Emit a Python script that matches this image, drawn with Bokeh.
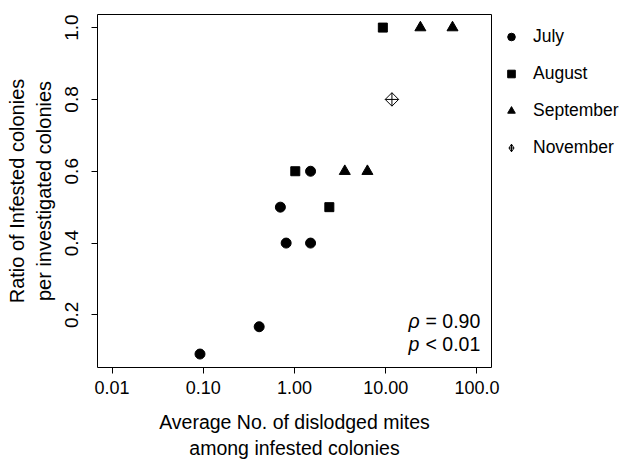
import math
from bokeh.plotting import figure
from bokeh.models import Range1d, FixedTicker, Label, Legend, LegendItem
from bokeh.embed import file_html
from bokeh.resources import INLINE

# ---- data ----
july_x = [0.092, 0.41, 0.81, 1.50, 0.70, 1.50]
july_y = [0.091, 0.167, 0.40, 0.40, 0.50, 0.60]
aug_x = [1.02, 2.41, 9.3]
aug_y = [0.60, 0.50, 1.00]
sep_x = [3.56, 6.3, 24.0, 54.0]
sep_y = [0.60, 0.60, 1.00, 1.00]
nov_x = [11.7]
nov_y = [0.80]

x_ticks = [0.01, 0.1, 1, 10, 100]
x_tick_labels = ["0.01", "0.10", "1.00", "10.00", "100.0"]
y_ticks = [0.2, 0.4, 0.6, 0.8, 1.0]
y_tick_labels = ["0.2", "0.4", "0.6", "0.8", "1.0"]

x_title = "Average No. of dislodged mites\namong infested colonies"
y_title = "Ratio of Infested colonies\nper investigated colonies"
stat_sym = ["\u03c1", "p"]
stat_txt = ["= 0.90", "< 0.01"]

FONT = "Liberation Sans"
XLO, XHI = -2.16, 2.16
YLO, YHI = 0.0535, 1.0365
FW, FH = 394, 353
BL, BT, BB = 97, 14, 92


def fx(px):
    return 10 ** (XLO + (XHI - XLO) * px / FW)


def fy(py):
    return YHI - (YHI - YLO) * py / FH


p = figure(x_axis_type="log",
           x_range=Range1d(10 ** XLO, 10 ** XHI),
           y_range=Range1d(YLO, YHI),
           frame_width=FW, frame_height=FH,
           min_border_left=BL, min_border_right=0,
           min_border_top=BT, min_border_bottom=BB,
           output_backend="svg", toolbar_location=None)

p.grid.visible = False
p.outline_line_color = "black"
p.outline_line_width = 1
p.background_fill_color = "white"
p.border_fill_color = "white"

p.xaxis.ticker = FixedTicker(ticks=x_ticks)
p.xaxis.major_label_overrides = {t: l for t, l in zip(x_ticks, x_tick_labels)}
p.yaxis.ticker = FixedTicker(ticks=y_ticks)
p.yaxis.major_label_overrides = {t: l for t, l in zip(y_ticks, y_tick_labels)}
p.yaxis.major_label_orientation = "vertical"
for ax in (p.xaxis, p.yaxis):
    ax.axis_line_color = None
    ax.minor_tick_line_color = None
    ax.major_tick_in = 0
    ax.major_tick_out = 6
    ax.major_tick_line_color = "black"
    ax.major_label_text_font = FONT
    ax.major_label_text_color = "black"
    ax.axis_label_text_font = FONT
    ax.axis_label_text_font_style = "normal"
    ax.axis_label_text_color = "black"
p.xaxis.major_label_text_font_size = "18px"
p.yaxis.major_label_text_font_size = "19px"
p.xaxis.major_label_standoff = 7
p.yaxis.major_label_standoff = 13

p.xaxis.axis_label = x_title
p.xaxis.axis_label_text_font_size = "19.5px"
p.xaxis.axis_label_standoff = 14
p.yaxis.axis_label = y_title
p.yaxis.axis_label_text_font_size = "20px"
p.yaxis.axis_label_standoff = 8

r_jul = p.scatter(july_x, july_y, marker="circle", size=10,
                  fill_color="black", line_color="black")
r_aug = p.scatter(aug_x, aug_y, marker="square", size=9,
                  fill_color="black", line_color="black")
r_sep = p.scatter(sep_x, sep_y, marker="triangle", size=11,
                  fill_color="black", line_color="black")
r_nov1 = p.scatter(nov_x, nov_y, marker="square", size=9.5, angle=math.pi / 4,
                   fill_color="white", line_color="black", line_width=1)
r_nov2 = p.scatter(nov_x, nov_y, marker="cross", size=13.4,
                   line_color="black", line_width=1)
# legend-only symbol for November (diamond with plus)
r_nov_leg = p.scatter(nov_x, nov_y, marker="diamond_cross", size=13,
                      fill_color="white", line_color="black", line_width=1,
                      visible=False)

legend = Legend(items=[
    LegendItem(label="July", renderers=[r_jul]),
    LegendItem(label="August", renderers=[r_aug]),
    LegendItem(label="September", renderers=[r_sep]),
    LegendItem(label="November", renderers=[r_nov_leg]),
])
legend.location = "top_left"
legend.title = " "
legend.title_text_font_size = "8px"
legend.title_standoff = 2
legend.border_line_color = None
legend.background_fill_alpha = 0
legend.padding = 0
legend.margin = 0
legend.spacing = 15
legend.glyph_width = 40
legend.glyph_height = 19
legend.label_height = 22
legend.label_standoff = 2
legend.label_text_font = FONT
legend.label_text_font_size = "17.5px"
legend.label_text_color = "black"
p.add_layout(legend, "right")

# statistics annotation (inside the plot frame)
for s, t, py in zip(stat_sym, stat_txt, [306, 329]):
    p.add_layout(Label(x=fx(311), y=fy(py), text=s, text_align="left",
                       text_baseline="middle", text_font=FONT,
                       text_font_style="italic", text_font_size="19.5px",
                       text_color="black"))
    p.add_layout(Label(x=fx(328), y=fy(py), text=t, text_align="left",
                       text_baseline="middle", text_font=FONT,
                       text_font_size="19.5px", text_color="black"))

open("out.html", "w").write(file_html(p, INLINE))
